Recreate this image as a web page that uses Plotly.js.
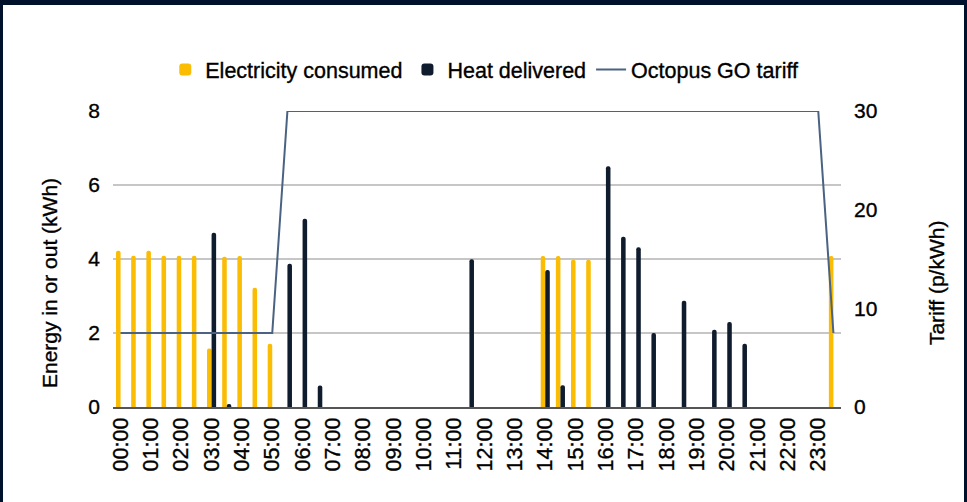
<!DOCTYPE html>
<html>
<head>
<meta charset="utf-8">
<script src="https://cdn.plot.ly/plotly-3.0.1.min.js"></script>
<style>
  html, body { margin: 0; padding: 0; background: #ffffff; }
  #chart { position: absolute; left: 0; top: 0; width: 967px; height: 502px; }
  #chart text { stroke: #000000; stroke-width: 0.35px; }
  #frame { position: absolute; left: 0; top: 0; width: 967px; height: 502px; box-sizing: border-box;
           border-top: 5px solid #00112b; border-left: 3px solid #00112b; border-right: 3px solid #00112b;
           pointer-events: none; }
</style>
</head>
<body>
<div id="chart"></div>
<div id="frame"></div>
<script>
// Half-hour slots
const slots = ["00:00","00:30","01:00","01:30","02:00","02:30","03:00","03:30","04:00","04:30",
  "05:00","05:30","06:00","06:30","07:00","07:30","08:00","08:30","09:00","09:30",
  "10:00","10:30","11:00","11:30","12:00","12:30","13:00","13:30","14:00","14:30",
  "15:00","15:30","16:00","16:30","17:00","17:30","18:00","18:30","19:00","19:30",
  "20:00","20:30","21:00","21:30","22:00","22:30","23:00","23:30"];

// Hourly tick labels
const hourTicks = ["00:00","01:00","02:00","03:00","04:00","05:00","06:00","07:00","08:00","09:00",
  "10:00","11:00","12:00","13:00","14:00","15:00","16:00","17:00","18:00","19:00",
  "20:00","21:00","22:00","23:00"];

// Electricity consumed (kWh)
const electricity = [4.22,4.09,4.22,4.09,4.09,4.09,1.58,4.06,4.08,3.22,
  1.71,0,0,0,0,0,0,0,0,0,
  0,0,0,0,0,0,0,0,4.08,4.08,
  3.98,3.98,0,0,0,0,0,0,0,0,
  0,0,0,0,0,0,0,4.08];

// Heat delivered (kWh)
const heat = [0,0,0,0,0,0,4.71,0.08,0,0,
  0,3.87,5.09,0.58,0,0,0,0,0,0,
  0,0,0,3.99,0,0,0,0,3.70,0.59,
  0,0,6.51,4.60,4.32,2.00,0,2.87,0,2.09,
  2.30,1.71,0,0,0,0,0,0];

// Octopus GO tariff (p/kWh)
const tariff = [7.5,7.5,7.5,7.5,7.5,7.5,7.5,7.5,7.5,7.5,
  7.5,30,30,30,30,30,30,30,30,30,
  30,30,30,30,30,30,30,30,30,30,
  30,30,30,30,30,30,30,30,30,30,
  30,30,30,30,30,30,30,7.5];

const FONT = "Liberation Sans, Arial, sans-serif";
const TXT = "#000000";

const traces = [
  { type: "bar", name: "Electricity consumed", x: slots, y: electricity,
    marker: { color: "#fbbc04", cornerradius: 2 }, yaxis: "y" },
  { type: "bar", name: "Heat delivered", x: slots, y: heat,
    marker: { color: "#0f1c2e", cornerradius: 2 }, yaxis: "y" },
  { type: "scatter", mode: "lines", name: "Octopus GO tariff", x: slots, y: tariff,
    line: { color: "#4a6382", width: 2 }, yaxis: "y2" }
];

const layout = {
  width: 967, height: 502,
  paper_bgcolor: "#ffffff", plot_bgcolor: "#ffffff",
  font: { family: FONT, size: 21, color: TXT },
  margin: { l: 113, r: 126, t: 111, b: 95 },
  barmode: "group", bargap: 0.4, bargroupgap: 0,
  showlegend: true,
  legend: { orientation: "h", x: 0.51, xanchor: "center", y: 1.14, yanchor: "middle",
            font: { family: FONT, size: 21.5, color: TXT }, traceorder: "normal" },
  xaxis: {
    type: "category", categoryorder: "array", categoryarray: slots,
    tickmode: "array", tickvals: hourTicks, ticktext: hourTicks,
    tickangle: -90, ticks: "", showgrid: false,
    showline: true, linecolor: "#555555", linewidth: 2,
    tickfont: { family: FONT, size: 21.5, color: TXT }
  },
  yaxis: {
    range: [0, 8], tickvals: [0, 2, 4, 6, 8], ticks: "",
    showgrid: true, gridcolor: "#c6c6c6", gridwidth: 2, zeroline: false,
    tickfont: { family: FONT, size: 21, color: TXT },
    ticklabelstandoff: 12
  },
  yaxis2: {
    overlaying: "y", side: "right", range: [0, 30], tickvals: [0, 10, 20, 30], ticks: "",
    showgrid: false, zeroline: false,
    tickfont: { family: FONT, size: 21, color: TXT },
    ticklabelstandoff: 12
  },
  annotations: [
    { text: "Energy in or out (kWh)", xref: "paper", yref: "paper", x: -0.0865, y: 0.419,
      xanchor: "center", yanchor: "middle", textangle: -90, showarrow: false,
      font: { family: FONT, size: 21, color: TXT } },
    { text: "Tariff (p/kWh)", xref: "paper", yref: "paper", x: 1.132, y: 0.419,
      xanchor: "center", yanchor: "middle", textangle: -90, showarrow: false,
      font: { family: FONT, size: 21, color: TXT } }
  ]
};

Plotly.newPlot("chart", traces, layout, { displayModeBar: false, staticPlot: true });
</script>
</body>
</html>
